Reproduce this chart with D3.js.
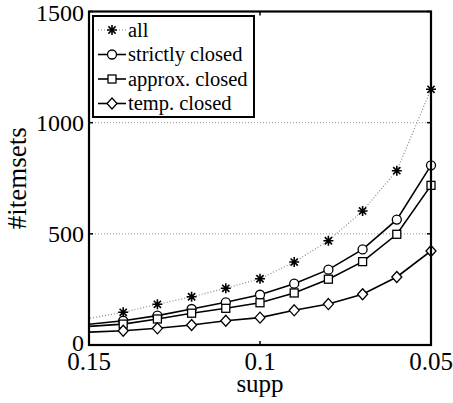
<!DOCTYPE html>
<html>
<head>
<meta charset="utf-8">
<script src="https://cdn.jsdelivr.net/npm/d3@7"></script>
<style>
  body { margin: 0; background: #fff; }
</style>
</head>
<body>
<div id="chart"></div>
<script>
// Data
const supp = [0.16, 0.14, 0.13, 0.12, 0.11, 0.10, 0.09, 0.08, 0.07, 0.06, 0.05];
const allSets = [92, 147, 183, 217, 255, 298, 373, 469, 603, 784, 1150];
const strictlyClosed = [78, 109, 132, 162, 192, 226, 276, 339, 430, 564, 808];
const approxClosed = [74, 94, 117, 143, 165, 190, 234, 296, 375, 498, 718];
const tempClosed = [52, 64, 75, 90, 109, 123, 156, 184, 228, 306, 423];
const seriesNames = ['all', 'strictly closed', 'approx. closed', 'temp. closed'];
const xTicks = [0.15, 0.1, 0.05];
const yTicks = [0, 500, 1000, 1500];

const W = 453, H = 403;
const plotLeft = 89, plotRight = 431, plotTop = 11.5, plotBottom = 345;
const serif = '"Liberation Serif", "DejaVu Serif", "Times New Roman", serif';

const svg = d3.select('#chart')
    .append('svg')
    .attr('width', W)
    .attr('height', H)
    .style('font-family', serif);

const x = d3.scaleLinear().domain([0.15, 0.05]).range([plotLeft, plotRight]);
const y = d3.scaleLinear().domain([0, 1500]).range([plotBottom, plotTop]);

svg.append('clipPath')
    .attr('id', 'plotclip')
    .append('rect')
    .attr('x', plotLeft)
    .attr('y', plotTop)
    .attr('width', plotRight - plotLeft)
    .attr('height', plotBottom - plotTop);

// Grid lines (only y)
svg.append('g')
    .selectAll('line')
    .data(yTicks.filter(d => d > 0 && d < 1500))
    .enter()
    .append('line')
    .attr('x1', plotLeft)
    .attr('x2', plotRight)
    .attr('y1', d => y(d))
    .attr('y2', d => y(d))
    .attr('stroke', '#999')
    .attr('stroke-width', 1)
    .attr('stroke-dasharray', '1,2');

// Marker shapes
function star(g, s) {
    const r = s / 2, d = r * 0.72;
    g.append('path')
        .attr('d', `M${-r},0L${r},0M0,${-r}L0,${r}M${-d},${-d}L${d},${d}M${-d},${d}L${d},${-d}`)
        .attr('stroke', '#000')
        .attr('stroke-width', 1.6)
        .attr('fill', 'none');
}
function circle(g) {
    g.append('circle').attr('r', 4.5)
        .attr('fill', '#fff').attr('stroke', '#000').attr('stroke-width', 1.3);
}
function square(g) {
    g.append('rect').attr('x', -4).attr('y', -4).attr('width', 8).attr('height', 8)
        .attr('fill', '#fff').attr('stroke', '#000').attr('stroke-width', 1.3);
}
function diamond(g) {
    g.append('path').attr('d', 'M0,-5.5L5,0L0,5.5L-5,0Z')
        .attr('fill', '#fff').attr('stroke', '#000').attr('stroke-width', 1.3);
}

const series = [
    { name: seriesNames[0], values: allSets, marker: g => star(g, 10), dash: '1,2', color: '#888', width: 1.2 },
    { name: seriesNames[1], values: strictlyClosed, marker: circle, dash: null, color: '#000', width: 1.6 },
    { name: seriesNames[2], values: approxClosed, marker: square, dash: null, color: '#000', width: 1.6 },
    { name: seriesNames[3], values: tempClosed, marker: diamond, dash: null, color: '#000', width: 1.6 }
];

const line = d3.line()
    .x(d => x(d[0]))
    .y(d => y(d[1]));

const plot = svg.append('g').attr('clip-path', 'url(#plotclip)');

series.forEach(s => {
    const pts = supp.map((v, i) => [v, s.values[i]]);
    plot.append('path')
        .datum(pts)
        .attr('d', line)
        .attr('fill', 'none')
        .attr('stroke', s.color)
        .attr('stroke-width', s.width)
        .attr('stroke-dasharray', s.dash);
});

// Markers (not clipped, skip points outside the axis range)
series.forEach(s => {
    supp.forEach((v, i) => {
        if (v > 0.15) return;
        const g = svg.append('g')
            .attr('transform', `translate(${x(v)},${y(s.values[i])})`);
        s.marker(g);
    });
});

// Axis box
svg.append('rect')
    .attr('x', plotLeft)
    .attr('y', plotTop)
    .attr('width', plotRight - plotLeft)
    .attr('height', plotBottom - plotTop)
    .attr('fill', 'none')
    .attr('stroke', '#000')
    .attr('stroke-width', 2.2);

// Inward ticks
const tl = 4;
xTicks.forEach(t => {
    svg.append('line').attr('x1', x(t)).attr('x2', x(t)).attr('y1', plotBottom).attr('y2', plotBottom - tl)
        .attr('stroke', '#000').attr('stroke-width', 1.5);
    svg.append('line').attr('x1', x(t)).attr('x2', x(t)).attr('y1', plotTop).attr('y2', plotTop + tl)
        .attr('stroke', '#000').attr('stroke-width', 1.5);
});
yTicks.forEach(t => {
    svg.append('line').attr('x1', plotLeft).attr('x2', plotLeft + tl).attr('y1', y(t)).attr('y2', y(t))
        .attr('stroke', '#000').attr('stroke-width', 1.5);
    svg.append('line').attr('x1', plotRight).attr('x2', plotRight - tl).attr('y1', y(t)).attr('y2', y(t))
        .attr('stroke', '#000').attr('stroke-width', 1.5);
});

// Tick labels
svg.append('g')
    .selectAll('text')
    .data(yTicks)
    .enter()
    .append('text')
    .attr('x', plotLeft - 5)
    .attr('y', d => y(d) + (d === 1500 ? 2 : 0) - (d === 0 ? 2 : 0))
    .attr('dy', '0.33em')
    .attr('text-anchor', 'end')
    .style('font-family', serif)
    .style('font-size', '24px')
    .text(d => d);

svg.append('g')
    .selectAll('text')
    .data(xTicks)
    .enter()
    .append('text')
    .attr('x', d => x(d))
    .attr('y', 370)
    .attr('text-anchor', 'middle')
    .style('font-family', serif)
    .style('font-size', '25px')
    .text(d => d3.format('')(d));

// Axis labels
svg.append('text')
    .attr('x', (plotLeft + plotRight) / 2)
    .attr('y', 392)
    .attr('text-anchor', 'middle')
    .style('font-family', serif)
    .style('font-size', '25px')
    .text('supp');

svg.append('text')
    .attr('transform', `translate(26,${(plotTop + plotBottom) / 2}) rotate(-90)`)
    .attr('text-anchor', 'middle')
    .style('font-family', serif)
    .style('font-size', '27px')
    .text('#itemsets');

// Legend
const legend = svg.append('g').attr('class', 'legend');
legend.append('rect')
    .attr('x', 93)
    .attr('y', 16)
    .attr('width', 161)
    .attr('height', 101)
    .attr('fill', '#fff')
    .attr('stroke', '#000')
    .attr('stroke-width', 2);

series.forEach((s, i) => {
    const ly = 30 + i * 24.5;
    legend.append('line')
        .attr('x1', 98).attr('x2', 126)
        .attr('y1', ly).attr('y2', ly)
        .attr('stroke', s.color)
        .attr('stroke-width', s.width)
        .attr('stroke-dasharray', s.dash);
    s.marker(legend.append('g').attr('transform', `translate(112,${ly})`));
    legend.append('text')
        .attr('x', 128)
        .attr('y', ly)
        .attr('dy', '0.33em')
        .style('font-family', serif)
        .style('font-size', '20.5px')
        .text(s.name);
});
</script>
</body>
</html>
